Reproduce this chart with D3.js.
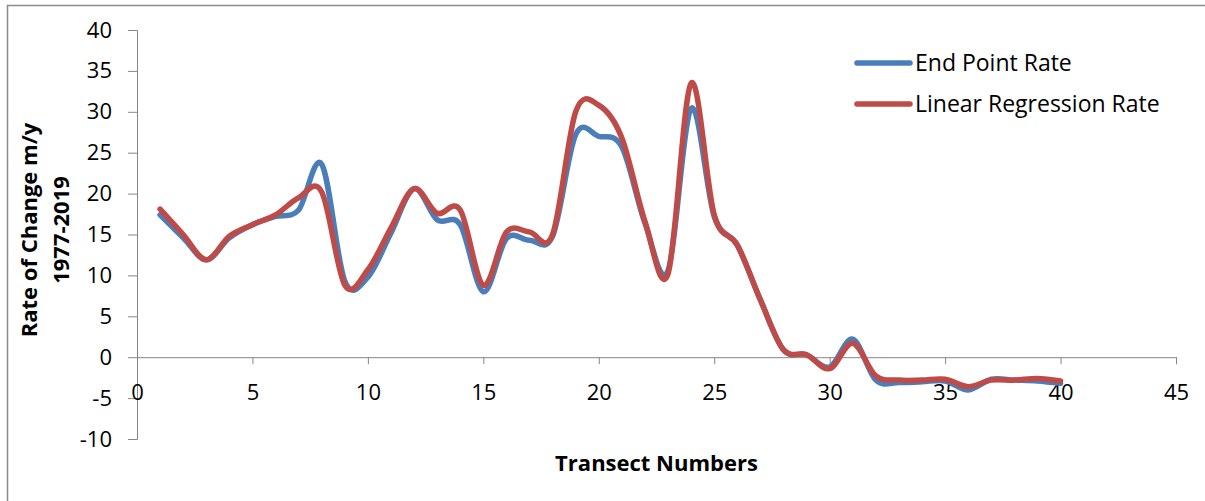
<!DOCTYPE html>
<html>
<head>
<meta charset="utf-8">
<script src="https://cdn.jsdelivr.net/npm/d3@7"></script>
<style>
  html, body { margin: 0; padding: 0; background: #fff; }
  svg { display: block; }
  text { font-family: "Open Sans", "Liberation Sans", sans-serif; fill: #000; }
</style>
</head>
<body>
<svg id="chart" width="1205" height="501"></svg>
<script>
// Shoreline rate of change per transect, 1977-2019
const transects = [1, 2, 3, 4, 5, 6, 7, 8, 9, 10,
                   11, 12, 13, 14, 15, 16, 17, 18, 19, 20,
                   21, 22, 23, 24, 25, 26, 27, 28, 29, 30,
                   31, 32, 33, 34, 35, 36, 37, 38, 39, 40];

const endPointRate = [17.4, 14.6, 11.9, 14.6, 16.2, 17.2, 18.0, 23.6, 9.3, 9.8,
                      15.2, 20.6, 16.8, 16.2, 8.0, 14.5, 14.3, 14.8, 27.2, 27.0,
                      25.7, 16.4, 10.6, 30.4, 17.2, 13.7, 7.0, 0.9, 0.3, -1.2,
                      2.2, -2.8, -3.1, -3.0, -2.9, -4.0, -2.7, -2.8, -2.9, -3.2];

const linearRegressionRate = [18.1, 15.0, 11.9, 14.8, 16.2, 17.4, 19.5, 20.2, 8.8, 10.7,
                              15.8, 20.6, 17.6, 18.0, 8.8, 15.3, 15.3, 15.0, 30.0, 30.8,
                              26.8, 16.6, 10.2, 33.5, 17.4, 13.7, 7.0, 0.9, 0.3, -1.4,
                              1.7, -2.3, -2.8, -2.8, -2.7, -3.6, -2.8, -2.8, -2.6, -2.9];

const xTicks = [0, 5, 10, 15, 20, 25, 30, 35, 40, 45];
const yTicks = [-10, -5, 0, 5, 10, 15, 20, 25, 30, 35, 40];

const seriesNames = ["End Point Rate", "Linear Regression Rate"];
const seriesColors = ["#4A7EBB", "#BE4B48"];

const svg = d3.select("#chart");
const axisColor = "#868686";
const plainNumber = d => String(d);

// chart frame (left and top edges)
svg.append("path")
  .attr("d", "M7.5,501 L7.5,5.5 L1205,5.5")
  .attr("fill", "none")
  .attr("stroke", "#8c8c8c")
  .attr("stroke-width", 1.5);

const x = d3.scaleLinear().domain([0, 45]).range([137, 1176]);
const y = d3.scaleLinear().domain([-10, 40]).range([439, 30]);

// y axis
const yAxis = svg.append("g")
  .attr("transform", `translate(${x(0)},0)`)
  .call(d3.axisLeft(y).tickValues(yTicks).tickSize(9).tickPadding(16).tickFormat(plainNumber));
yAxis.select(".domain").attr("stroke", axisColor);
yAxis.selectAll(".tick line").attr("stroke", axisColor);
yAxis.selectAll(".tick text")
  .attr("font-size", 22)
  .attr("font-family", "'Open Sans', sans-serif")
  .attr("fill", "#000");

// x axis crossing at zero, labels placed low
const xAxis = svg.append("g")
  .attr("transform", `translate(0,${y(0)})`)
  .call(d3.axisBottom(x).tickValues(xTicks).tickSize(7).tickSizeOuter(7).tickPadding(0).tickFormat(plainNumber));
xAxis.select(".domain").attr("stroke", axisColor);
xAxis.selectAll(".tick line").attr("stroke", axisColor);
xAxis.selectAll(".tick text")
  .attr("y", 43)
  .attr("dy", null)
  .attr("font-size", 22)
  .attr("font-family", "'Open Sans', sans-serif")
  .attr("fill", "#000");

// smoothed series lines
const series = [endPointRate, linearRegressionRate];
const line = d3.line()
  .x((d, i) => x(transects[i]))
  .y(d => y(d))
  .curve(d3.curveCatmullRom.alpha(0));

series.forEach((vals, k) => {
  svg.append("path")
    .datum(vals)
    .attr("d", line)
    .attr("fill", "none")
    .attr("stroke", seriesColors[k])
    .attr("stroke-width", 5.5)
    .attr("stroke-linecap", "round")
    .attr("stroke-linejoin", "round");
});

// legend
const legend = svg.append("g");
seriesNames.forEach((name, k) => {
  const ly = 63 + k * 41;
  legend.append("line")
    .attr("x1", 857).attr("x2", 910)
    .attr("y1", ly).attr("y2", ly)
    .attr("stroke", seriesColors[k])
    .attr("stroke-width", 5.5)
    .attr("stroke-linecap", "round");
  legend.append("text")
    .attr("x", 915).attr("y", ly)
    .attr("dy", "0.35em")
    .attr("font-size", 23)
    .text(name);
});

// axis titles
svg.append("text")
  .attr("x", x(22.5)).attr("y", 471)
  .attr("text-anchor", "middle")
  .attr("font-size", 22)
  .attr("font-weight", "bold")
  .text("Transect Numbers");

const yTitle = svg.append("text")
  .attr("transform", `translate(37,${230}) rotate(-90)`)
  .attr("text-anchor", "middle")
  .attr("font-size", 22)
  .attr("font-weight", "bold");
yTitle.append("tspan").attr("x", 0).attr("dy", 0).text("Rate of Change m/y");
yTitle.append("tspan").attr("x", 0).attr("dy", 31.5).text("1977-2019");
</script>
</body>
</html>
